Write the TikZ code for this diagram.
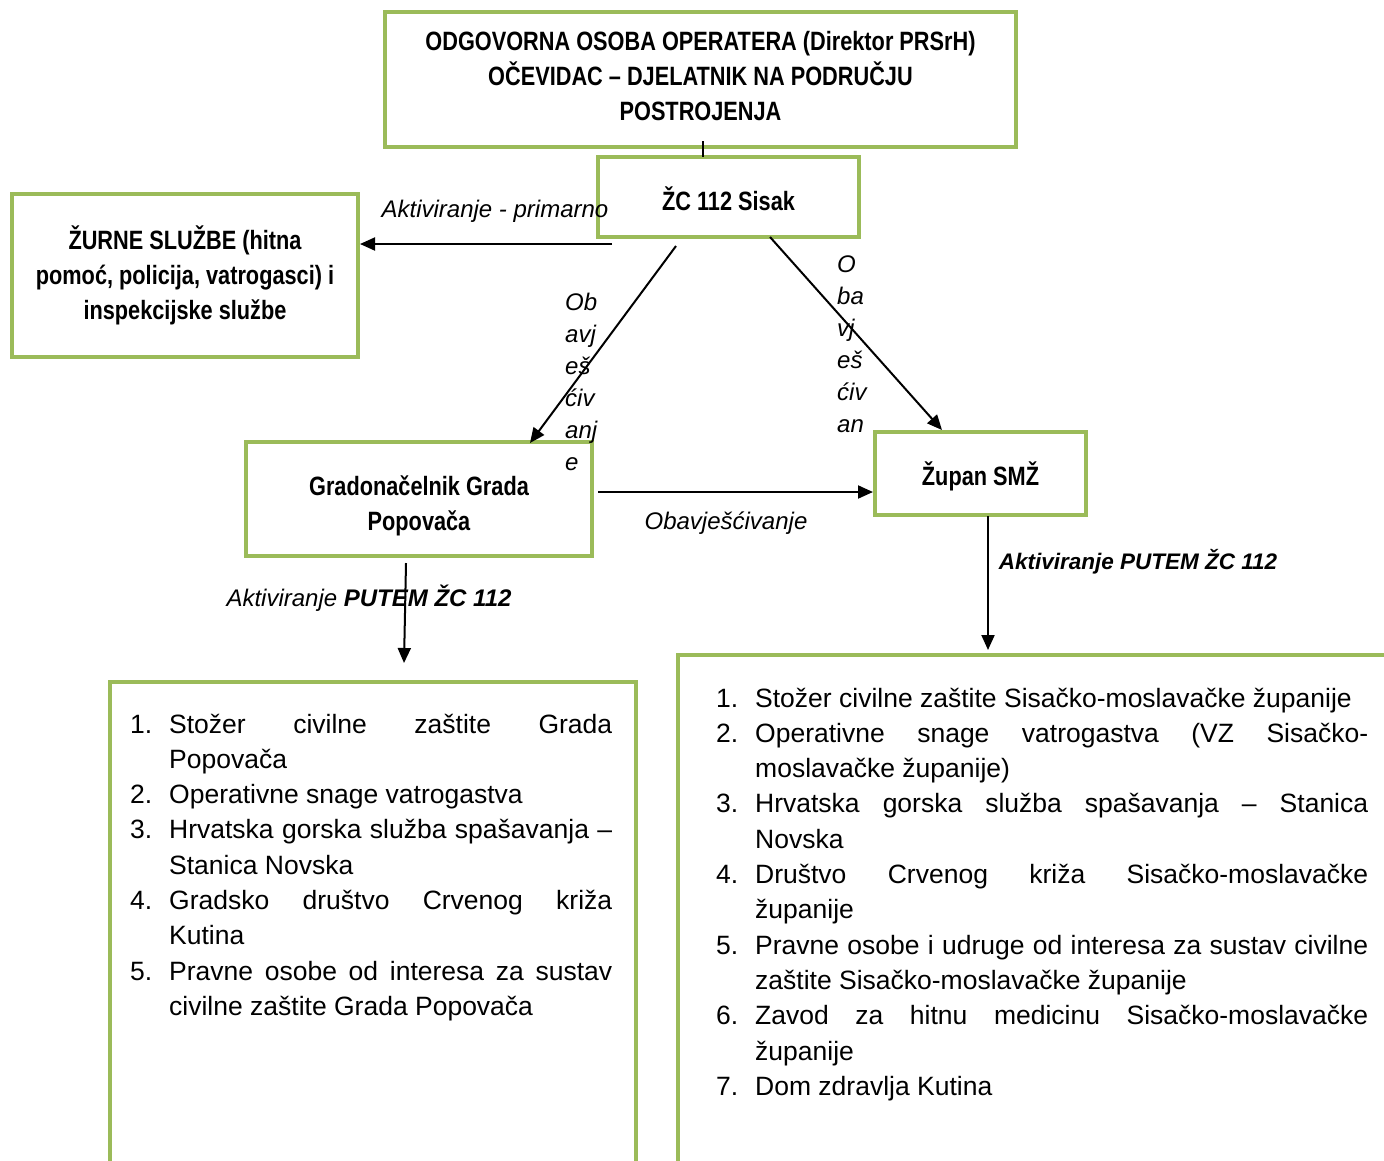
\documentclass[tikz,border=0pt]{standalone}
\usepackage{fontspec}
\setmainfont{Liberation Sans}
\newfontfamily\narrowfont[FakeStretch=0.82]{Liberation Sans}
\usetikzlibrary{arrows.meta}
\definecolor{boxgreen}{HTML}{9BBB59}
\tikzset{
  gbox/.style={draw=boxgreen, line width=4pt, inner sep=0pt, align=center,
    font=\narrowfont\bfseries\fontsize{26.5}{35}\selectfont},
  openbox/.style={draw=boxgreen, line width=4pt, inner sep=0pt, anchor=north west},
  conn/.style={line width=2pt, -{Triangle[length=15pt,width=13pt]}},
  plain/.style={line width=2pt},
  lbl/.style={inner sep=0pt, font=\itshape\fontsize{24}{32}\selectfont},
  listtext/.style={inner sep=0pt, align=justify, anchor=base west,
    font=\fontsize{26.5}{35.3}\selectfont},
}
\newcommand\listsetup{\tolerance=10000\relax\hbadness=10000\relax\hyphenpenalty=10000\relax\exhyphenpenalty=10000\relax}
\newcommand\myitem[2]{\hangindent=39pt\relax\hangafter=1\relax\noindent\makebox[39pt][l]{#1}#2\par}
\begin{document}
\begin{tikzpicture}[x=1pt,y=-1pt]
\useasboundingbox (0,0) rectangle (1384,1160);
\clip (0,0) rectangle (1384,1160);

% boxes
\node[gbox, minimum width=631pt, minimum height=135pt] (top) at (700.5,79.5)
  {ODGOVORNA OSOBA OPERATERA (Direktor PRSrH)\\OČEVIDAC – DJELATNIK NA PODRUČJU\\POSTROJENJA\rule[-8pt]{0pt}{8pt}};
\node[gbox, minimum width=261pt, minimum height=80pt] (zc) at (728.5,197) {\rule{0pt}{27pt}ŽC 112 Sisak};
\node[gbox, minimum width=346pt, minimum height=163pt] (zurne) at (185,275.5)
  {ŽURNE SLUŽBE (hitna\\pomoć, policija, vatrogasci) i\\inspekcijske službe};
\node[gbox, minimum width=346pt, minimum height=114pt] (grad) at (419,499)
  {\rule{0pt}{34pt}Gradonačelnik Grada\\Popovača};
\node[gbox, minimum width=211pt, minimum height=83pt] (zupan) at (980.5,473.5) {\rule{0pt}{30pt}Župan SMŽ};
\node[openbox, minimum width=526pt, minimum height=600pt] (lbox) at (108,680) {};
\node[openbox, minimum width=800pt, minimum height=600pt] (rbox) at (676,653) {};

% list texts
\node[listtext, text width=482pt] (ltext) at (130,733) {\listsetup
\myitem{1.}{Stožer civilne zaštite Grada\linebreak Popovača}
\myitem{2.}{Operativne snage vatrogastva}
\myitem{3.}{Hrvatska gorska služba spašavanja –\linebreak Stanica Novska}
\myitem{4.}{Gradsko društvo Crvenog križa\linebreak Kutina}
\myitem{5.}{Pravne osobe od interesa za sustav\linebreak civilne zaštite Grada Popovača}};
\node[listtext, text width=652pt] (rtext) at (716,707) {\listsetup
\myitem{1.}{Stožer civilne zaštite Sisačko-moslavačke županije}
\myitem{2.}{Operativne snage vatrogastva (VZ Sisačko-\linebreak moslavačke županije)}
\myitem{3.}{Hrvatska gorska služba spašavanja – Stanica\linebreak Novska}
\myitem{4.}{Društvo Crvenog križa Sisačko-moslavačke\linebreak županije}
\myitem{5.}{Pravne osobe i udruge od interesa za sustav civilne\linebreak zaštite Sisačko-moslavačke županije}
\myitem{6.}{Zavod za hitnu medicinu Sisačko-moslavačke\linebreak županije}
\myitem{7.}{Dom zdravlja Kutina}};

% connector end points
\coordinate (t1) at (703,141);
\coordinate (t2) at (703,157);
\coordinate (a1s) at (612,244);
\coordinate (a2s) at (676,246);
\coordinate (a2e) at (530,443);
\coordinate (a3s) at (770,237);
\coordinate (a3e) at (942,430);
\coordinate (a4s) at (598,492);
\coordinate (a5s) at (406,563);
\coordinate (a5e) at (404,663);
\coordinate (a6s) at (988,516);
\coordinate (a6e) at (988,650);

% connectors
\draw[plain] (t1) -- (t2);
\draw[conn] (a1s) -- (zurne.east |- a1s);
\draw[conn] (a2s) -- (a2e);
\draw[conn] (a3s) -- (a3e);
\draw[conn] (a4s) -- (zupan.west |- a4s);
\draw[conn] (a5s) -- (a5e);
\draw[conn] (a6s) -- (a6e);

% labels
\node[lbl] (lprim) at (495,211) {Aktiviranje - primarno};
\node[lbl, align=left, anchor=west] (lob1) at (565,382) {Ob\\avj\\eš\\ćiv\\anj\\e};
\node[lbl, align=left, anchor=west] (lob2) at (837,344.5) {O\\ba\\vj\\eš\\ćiv\\an};
\node[lbl] (lobav) at (726,523) {Obavješćivanje};
\node[lbl] (lput1) at (369,598) {Aktiviranje \textbf{PUTEM ŽC 112}};
\node[lbl, font=\bfseries\itshape\fontsize{22.5}{27}\selectfont] (lput2) at (1138,562) {Aktiviranje PUTEM ŽC 112};
\end{tikzpicture}
\end{document}
